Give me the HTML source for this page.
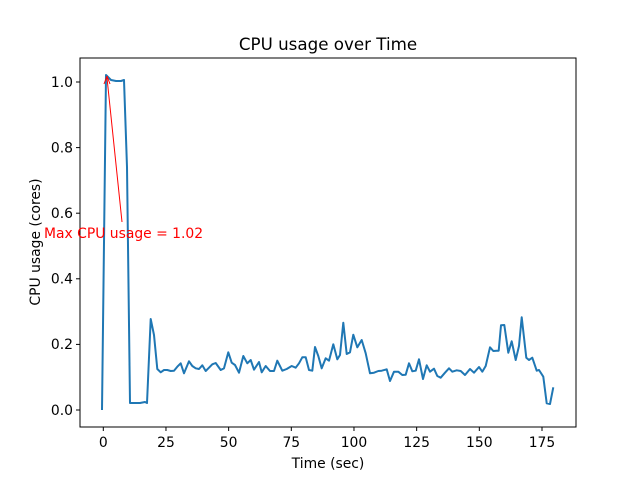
<!DOCTYPE html>
<html><head><meta charset="utf-8"><style>body{margin:0;background:#fff}svg{display:block}text{font-family:"DejaVu Sans","Liberation Sans",sans-serif}</style></head>
<body>
<svg id="s" width="640" height="480" xmlns="http://www.w3.org/2000/svg">
<rect x="80" y="58" width="496" height="369" fill="none" stroke="#000" stroke-width="1"/>
<text x="328" y="50" text-anchor="middle" font-size="16.7">CPU usage over Time</text>
<text x="328" y="468" text-anchor="middle" font-size="13.9">Time (sec)</text>
<text transform="translate(40,242) rotate(-90)" text-anchor="middle" font-size="13.9">CPU usage (cores)</text>
<g id="ticks" font-size="13.9"></g>
<polyline id="line" fill="none" stroke="#1f77b4" stroke-width="2" stroke-linejoin="round"/>
<line x1="122" y1="222" x2="107" y2="78" stroke="red" stroke-width="1"/>
<path d="M107 76 L104 84 M107 76 L110 84" stroke="red" fill="none"/>
<text x="44" y="238" fill="red" font-size="13.9">Max CPU usage = 1.02</text>
</svg>
<script>
var g=document.getElementById('ticks'),h='';
for(var i=0;i<=5;i++){var y=410-i*0.2*328;h+='<line x1="76" x2="80" y1="'+y+'" y2="'+y+'" stroke="#000"/><text x="73" y="'+(y+4.8)+'" text-anchor="end">'+(i*0.2).toFixed(1)+'</text>';}
for(var i=0;i<=7;i++){var x=103.3+i*62.67;h+='<line x1="'+x+'" x2="'+x+'" y1="427" y2="431" stroke="#000"/><text x="'+x+'" y="447" text-anchor="middle">'+(i*25)+'</text>';}
g.innerHTML=h;
var p=[[102,410],[106,75],[111,80],[116,81],[121,81],[124,80],[127,167],[130,403],[135,403],[140,403],[145,402],[147,403]];
var z1=[167,57,177,105,187,207,197,217,207,210,217,210,227,213,237,212,247,200,257,190,267,220,282,184,292,198,302,205,312,207,322,196,332,213,342,203,352,193,362,189,377,210,387,205,400,157,410,188,420,195,432,218,445,168,457,190,467,180,477,209,492,186,500,217,512,198,525,213,537,213,547,182,562,212,575,207,590,198,602,203,612,190,622,172,632,172,642,210,652,212,660,141,670,168,680,205,692,175,702,182,715,133];
for(var i=0;i<z1.length;i+=2)p.push([95+z1[i]/3,300+z1[i+1]/3]);
var z2=[10,133,22,178,30,165,40,68,50,162,60,157,70,104,82,142,95,120,107,160,120,220,132,218,145,213,155,212,170,208,180,243,192,215,205,215,217,225,227,224,237,190,247,214,257,212,267,178,279,237,290,196,300,215,312,206,322,228,332,233,345,218,357,205,367,215,380,211,392,213,405,225,420,207,432,218,447,201,457,215,467,198,480,142,490,153,500,152,506,152,513,76,523,75,535,158,545,124,557,180,567,138,575,52,589,173,597,180,607,173,620,212,627,210,640,230,650,310,660,312,670,262];
for(var i=0;i<z2.length;i+=2)p.push([330+z2[i]/3,300+z2[i+1]/3]);
document.getElementById('line').setAttribute('points',p.map(function(a){return a[0].toFixed(1)+','+a[1].toFixed(1)}).join(' '));
</script>
</body></html>
